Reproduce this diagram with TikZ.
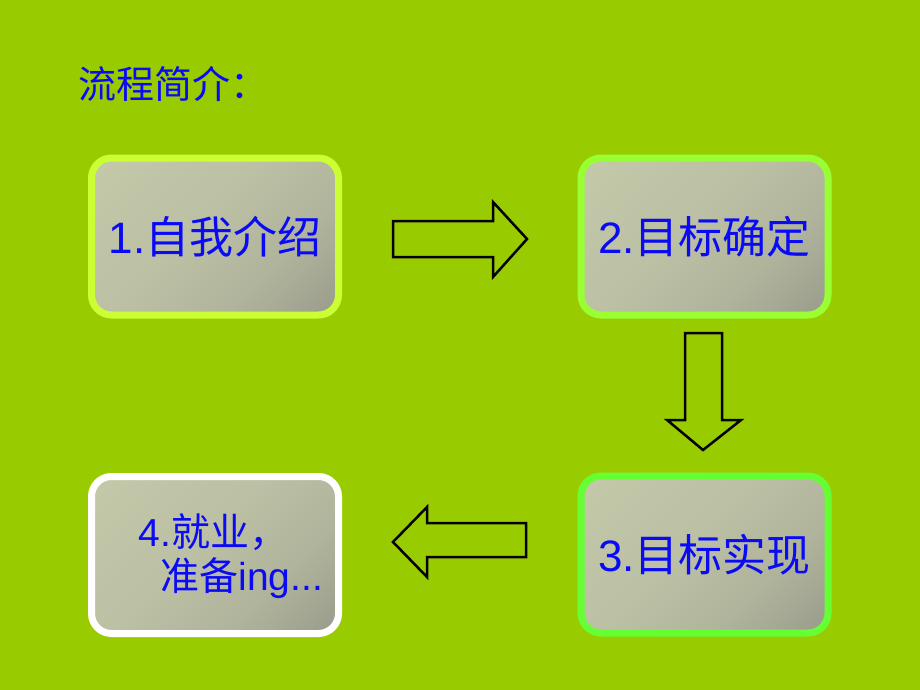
\documentclass[tikz,border=0pt]{standalone}
\usepackage{fontspec}
\setmainfont{Liberation Sans}
\newfontfamily\cjk{Noto Sans CJK SC}
\usepackage{xcolor}
\usepackage{tikz}

\definecolor{slidegreen}{HTML}{99CC00}
\definecolor{shadelight}{HTML}{C8CDAC}
\definecolor{shademid}{HTML}{BCC0A4}
\definecolor{shadedark}{HTML}{6C6C6A}
\definecolor{rimone}{HTML}{CCFF33}
\definecolor{rimtwo}{HTML}{99FF33}
\definecolor{rimthree}{HTML}{66FF33}
\definecolor{textblue}{HTML}{0A0AF5}

\pgfdeclareverticalshading{boxshade}{100bp}{color(0bp)=(shadedark); color(14bp)=(shadedark!45!shademid); color(34bp)=(shadedark!15!shademid); color(55bp)=(shademid); color(100bp)=(shadelight)}

\begin{document}
\begin{tikzpicture}[x=1pt, y=-1pt,
    stepbox/.style={rounded corners=20pt, line width=7pt, shading=boxshade, shading angle=45,
      minimum width=247pt, minimum height=157pt, inner sep=0pt, text=textblue,
      font=\fontsize{44}{50}\selectfont},
    blockarrow/.style={draw=black, line width=2.5pt, line join=miter}]

\fill[slidegreen] (0,0) rectangle (920,690);

% title
\node[anchor=west, text=textblue, font=\fontsize{38}{44}\selectfont\cjk] (title) at (75,84) {流程简介：};

% steps
\node[stepbox, draw=rimone] (intro) at (215,236.5) {1.{\cjk 自我介绍}};
\node[stepbox, draw=rimtwo] (goal) at (704.5,236.5) {2.{\cjk 目标确定}};
\node[stepbox, draw=rimthree] (reach) at (704.5,554.5) {3.{\cjk 目标实现}};
\node[stepbox, draw=white] (job) at (215,555) {};
\node[anchor=west, align=left, text=textblue, font=\fontsize{39}{44}\selectfont] (jobtext) at (135,556)
  {4.{\cjk 就业，}\\\hspace*{22pt}{\cjk 准备}ing...};

% arrows
\draw[blockarrow] (393,221) -- (493,221) -- (493,202) -- (527,239) -- (493,277) -- (493,257) -- (393,257) -- cycle;
\draw[blockarrow] (685,333) -- (722,333) -- (722,420) -- (741,420) -- (703,450) -- (667,420) -- (685,420) -- cycle;
\draw[blockarrow] (526,523) -- (427,523) -- (427,507) -- (393,542) -- (427,577) -- (427,557) -- (526,557) -- cycle;

\end{tikzpicture}
\end{document}
